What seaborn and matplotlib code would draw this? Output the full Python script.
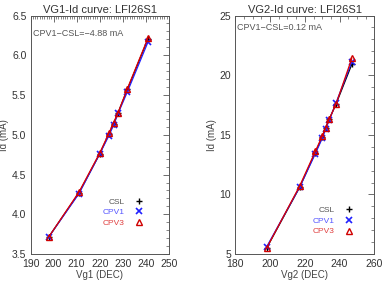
import matplotlib
matplotlib.use("Agg")
import matplotlib.pyplot as plt
from matplotlib.ticker import MultipleLocator
import seaborn as sns
import pandas as pd

vg1 = [198, 211, 220, 224, 226, 228, 232, 241]
vg1_csl = [3.72, 4.27, 4.76, 5.01, 5.14, 5.28, 5.57, 6.21]
vg1_cpv1 = [3.72, 4.26, 4.76, 4.99, 5.12, 5.27, 5.54, 6.17]
vg1_cpv3 = [3.72, 4.28, 4.77, 5.02, 5.15, 5.28, 5.58, 6.22]

vg2 = [198, 217, 226, 230, 232, 234, 238, 247]
vg2_csl = [5.5, 10.6, 13.5, 14.8, 15.6, 16.3, 17.6, 20.9]
vg2_cpv1 = [5.6, 10.6, 13.4, 14.7, 15.5, 16.2, 17.7, 21.1]
vg2_cpv3 = [5.5, 10.7, 13.6, 14.9, 15.6, 16.3, 17.6, 21.4]

series = ["CSL", "CPV1", "CPV3"]
titles = ["VG1-Id curve: LFI26S1", "VG2-Id curve: LFI26S1"]
xlabels = ["Vg1 (DEC)", "Vg2 (DEC)"]
notes = ["CPV1\u2212CSL=\u22124.88 mA", "CPV1\u2212CSL=0.12 mA"]

sns.set_theme(style="white")
plt.rcParams['font.family'] = ['Liberation Sans', 'DejaVu Sans']

line_colors = {"CSL": "#000000", "CPV1": "#2020ff", "CPV3": "#e00000"}
text_colors = ["#555555", "#5555ff", "#e04040"]
marker_kw = {
    "CSL": dict(marker="+", markersize=5, markeredgewidth=1.0, markeredgecolor="#000000"),
    "CPV1": dict(marker="x", markersize=4, markeredgewidth=1.2, markeredgecolor="#2020ff"),
    "CPV3": dict(marker="^", markersize=5, markeredgewidth=1.0, markeredgecolor="#d00000",
                 markerfacecolor="none"),
}

fig = plt.figure(figsize=(3.82, 2.82), dpi=100)
ax1 = fig.add_axes([0.080, 0.099, 0.362, 0.846])
ax2 = fig.add_axes([0.616, 0.099, 0.364, 0.846])

datasets = [
    (ax1, vg1, [vg1_csl, vg1_cpv1, vg1_cpv3]),
    (ax2, vg2, [vg2_csl, vg2_cpv1, vg2_cpv3]),
]
legend_anchor = [(0.495, 0.25), (0.53, 0.215)]
note_y = [0.925, 0.95]

for i, (ax, xs, ys) in enumerate(datasets):
    for name, yv in zip(series, ys):
        df = pd.DataFrame({"x": xs, "y": yv})
        sns.lineplot(data=df, x="x", y="y", ax=ax, color=line_colors[name],
                     linewidth=0.9, label=name, **marker_kw[name])
    ax.set_title(titles[i], fontsize=8, color="#333333", pad=2)
    ax.set_xlabel(xlabels[i], fontsize=7, color="#444444", labelpad=1)
    ax.set_ylabel("Id (mA)", fontsize=7, color="#444444", labelpad=2)
    ax.text(0.015, note_y[i], notes[i], transform=ax.transAxes, fontsize=6.5,
            color="#555555", ha="left", va="center")
    leg = ax.legend(loc="upper left", bbox_to_anchor=legend_anchor[i],
                    markerfirst=False, frameon=False, fontsize=6,
                    labelcolor=text_colors, handlelength=1.0, handletextpad=1.2,
                    labelspacing=0.35, borderaxespad=0)
    for h in leg.get_lines():
        h.set_linestyle("none")
    ax.tick_params(which="both", direction="in", top=True, right=True,
                   labelsize=7.5, labelcolor="#333333", color="#555555")
    ax.tick_params(axis="x", which="both", pad=3.5)
    ax.tick_params(axis="y", which="both", pad=3)
    ax.tick_params(which="major", length=4, width=0.6)
    ax.tick_params(which="minor", length=2, width=0.5)
    for sp in ax.spines.values():
        sp.set_color("#555555")
        sp.set_linewidth(0.7)

ax1.set_xlim(190, 250)
ax1.set_ylim(3.5, 6.5)
ax1.xaxis.set_major_locator(MultipleLocator(10))
ax1.xaxis.set_minor_locator(MultipleLocator(1))
ax1.yaxis.set_major_locator(MultipleLocator(0.5))
ax1.yaxis.set_minor_locator(MultipleLocator(0.1))
ax1.set_yticklabels([f"{v:.1f}" for v in ax1.get_yticks()])

ax2.set_xlim(180, 260)
ax2.set_ylim(5, 25)
ax2.xaxis.set_major_locator(MultipleLocator(20))
ax2.xaxis.set_minor_locator(MultipleLocator(5))
ax2.yaxis.set_major_locator(MultipleLocator(5))
ax2.yaxis.set_minor_locator(MultipleLocator(1))

fig.savefig("out.png", dpi=100)
